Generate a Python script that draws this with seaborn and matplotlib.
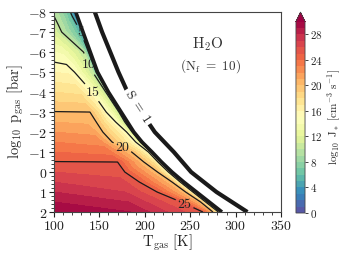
import numpy as np
import matplotlib
matplotlib.use("Agg")
import matplotlib.pyplot as plt
import seaborn as sns
from matplotlib.ticker import FuncFormatter, MultipleLocator

# log10 p_gas of each grid row
p_rows = [-8, -7, -6, -5, -4, -3, -2.5, -2, -1.5, -1, -0.5, 0, 0.5, 1, 1.5, 2]

# T_gas nodes along each row (last node = edge of nucleating region)
T_nodes = [
    [100, 106, 112, 116, 119, 122, 124],
    [100, 104, 108.5, 116, 123, 129.5, 132],
    [100, 110, 121, 132.5, 136, 138, 140],
    [100, 116, 122.5, 133, 142.6, 146, 148],
    [100, 128, 142, 150, 157, 159, 160],
    [100, 139.6, 150, 157.5, 166, 171.5, 174],
    [100, 135, 146.6, 157, 168, 178, 181],
    [100, 142, 153.8, 167, 180, 186, 188],
    [100, 150, 164, 178, 190, 195, 197],
    [100, 160, 185.6, 196, 204, 206.5, 208],
    [100, 170, 199, 210, 214.5, 217, 218.5],
    [100, 170, 178, 214, 226, 228.5, 230],
    [100, 175, 194, 230, 239, 241.5, 243],
    [100, 178, 213.6, 245, 253, 255.5, 257],
    [100, 182, 240, 261.5, 267, 269.5, 271],
    [100, 185, 264, 275, 281, 283.5, 285],
]

# log10 J_* at those nodes
J_nodes = [
    [9.6, 8.6, 7.4, 6.0, 4.6, 2.5, 0],
    [11.6, 10.8, 10, 8.5, 7, 5, 0],
    [14, 13.7, 12, 10, 7.5, 5, 0],
    [16, 15.8, 15, 12.5, 10, 6, 0],
    [18, 17.7, 15, 12.5, 10, 6, 0],
    [20.05, 20, 17.5, 15, 12.5, 10, 0],
    [21, 20.8, 20, 17.5, 15, 10, 0],
    [22, 21.7, 20, 17.5, 15, 10, 0],
    [23, 22.6, 20, 17.5, 15, 10, 0],
    [24, 23.5, 20, 17.5, 15, 10, 0],
    [25.05, 25, 20, 17.5, 15, 10, 0],
    [26, 25.6, 25, 20, 15, 10, 0],
    [27, 26.3, 25, 20, 15, 10, 0],
    [28, 27, 25, 20, 15, 10, 0],
    [29, 28, 25, 20, 15, 10, 0],
    [30, 29, 25, 20, 15, 10, 0],
]

# saturation S = 1 curve
s1_p = [-8, -7, -6, -5, -4, -3, -2, -1, 0, 1, 2]
s1_T = [145, 153, 162, 171, 181, 196, 211, 232, 251, 279, 313]

j_levels = np.arange(0, 31, 1)
line_levels = [5, 10, 15, 20, 25]
cbar_ticks = [0, 4, 8, 12, 16, 20, 24, 28]

sns.set_theme(style="ticks")
plt.rcParams["mathtext.fontset"] = "cm"
plt.rcParams["font.family"] = ["DejaVu Serif"]
plt.rcParams["axes.edgecolor"] = "#444444"
plt.rcParams["xtick.color"] = "#222222"
plt.rcParams["ytick.color"] = "#222222"


def mfmt(v, pos=None):
    return f"${v:g}$"


fig = plt.figure(figsize=(3.49, 2.62), dpi=100)
ax = fig.add_axes([0.1547, 0.1908, 0.6504, 0.763])
cax = fig.add_axes([0.848, 0.187, 0.026, 0.767])

T = np.array(T_nodes)
P = np.repeat(np.array(p_rows)[:, None], T.shape[1], axis=1)
J = np.array(J_nodes)

cmap = sns.color_palette("Spectral_r", as_cmap=True)
cf = ax.contourf(T, P, J, levels=j_levels, cmap=cmap, extend="max")
cs = ax.contour(T, P, J, levels=line_levels, colors="k", linewidths=0.9)
labels = ax.clabel(cs, fmt=lambda v: f"${v:.0f}$", fontsize=10, inline=True,
                   manual=[(131, -7.05), (137.5, -5.35), (142, -4.0), (176, -1.35), (244, 1.55)])
for t in labels:
    t.set_rotation(0)
    t.set_color("#222222")

# edge of the nucleating region and S = 1
ax.plot(T[:, -1], p_rows, color="k", lw=2.6, solid_capstyle="butt")
ax.plot(s1_T, s1_p, color="k", lw=3.0, solid_capstyle="butt")
ax.text(192, -3.25, r"$\mathrm{S\ =\ 1}$", fontsize=9.5, rotation=-57,
        ha="center", va="center", color="#222222",
        bbox=dict(facecolor="white", edgecolor="none", pad=1.5))

ax.text(0.676, 0.84, r"$\mathrm{H_2O}$", transform=ax.transAxes,
        fontsize=11, ha="center", va="center", color="#333333")
ax.text(0.69, 0.73, r"$\mathrm{(N_f\ =\ 10)}$", transform=ax.transAxes,
        fontsize=9.5, ha="center", va="center", color="#333333")

ax.set_xlim(100, 350)
ax.set_ylim(2, -8)
ax.xaxis.set_major_locator(MultipleLocator(50))
ax.xaxis.set_minor_locator(MultipleLocator(10))
ax.yaxis.set_major_locator(MultipleLocator(1))
ax.yaxis.set_minor_locator(MultipleLocator(0.2))
ax.xaxis.set_major_formatter(FuncFormatter(mfmt))
ax.yaxis.set_major_formatter(FuncFormatter(mfmt))
ax.tick_params(which="major", length=3.5, width=0.8, labelsize=10, pad=1.5)
ax.tick_params(which="minor", length=2, width=0.6)
ax.set_xlabel(r"$\mathrm{T_{gas}\ [K]}$", fontsize=10.5, labelpad=0)
ax.set_ylabel(r"$\log_{10}\ \mathrm{p_{gas}\ [bar]}$", fontsize=10.5, labelpad=1)
for sp in ax.spines.values():
    sp.set_linewidth(0.8)

cb = fig.colorbar(cf, cax=cax, ticks=cbar_ticks)
cb.ax.yaxis.set_major_formatter(FuncFormatter(mfmt))
cb.ax.tick_params(labelsize=8, length=2.5, width=0.6, pad=1)
cb.outline.set_linewidth(0.6)
cb.set_label(r"$\log_{10}\ \mathrm{J_*\ [cm^{-3}\ s^{-1}]}$", fontsize=8, labelpad=2)

fig.savefig("out.png", dpi=100)
plt.close(fig)
